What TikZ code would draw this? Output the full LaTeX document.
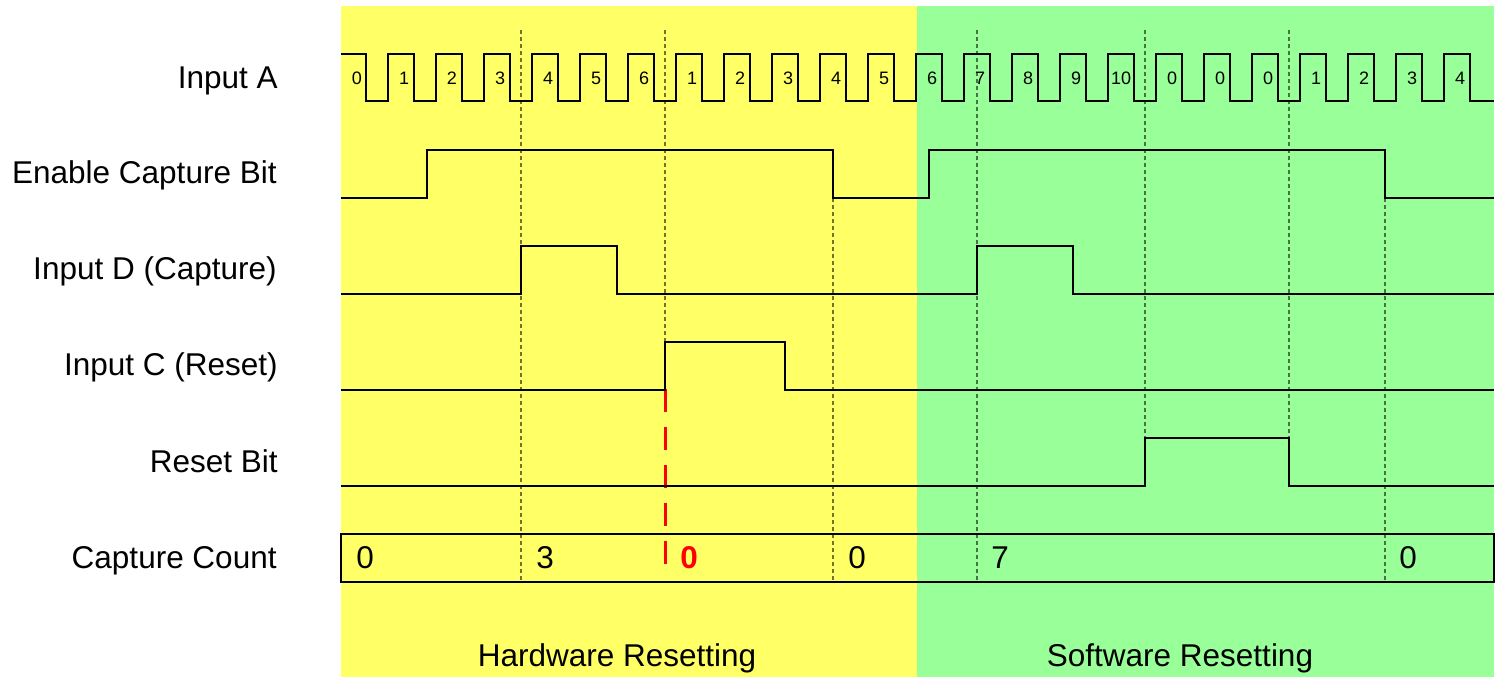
\documentclass[tikz,border=0pt]{standalone}
\usepackage{fontspec}
\setmainfont{Liberation Sans}
\definecolor{hwyellow}{RGB}{255,255,102}
\definecolor{swgreen}{RGB}{153,255,153}
\tikzset{
  wave/.style={draw=black, line width=1pt, line join=miter},
  guideline/.style={draw=black, draw opacity=0.55, line width=0.7pt, dash pattern=on 2pt off 1.5pt},
  resetline/.style={draw=red, line width=1.5pt, dash pattern=on 11.5pt off 7.5pt},
  biglabel/.style={inner sep=0pt, font=\fontsize{15.75pt}{18pt}\selectfont},
  siglabel/.style={biglabel, anchor=base east},
  tick/.style={inner sep=0pt, anchor=base, font=\fontsize{9pt}{10pt}\selectfont},
  countlabel/.style={biglabel, anchor=base west}
}
\begin{document}
\begin{tikzpicture}[x=0.5pt,y=-0.5pt]
\useasboundingbox (0,0) rectangle (1499,677);
% backgrounds
\fill[hwyellow] (341,6) rectangle (917,677);
\fill[swgreen] (917,6) rectangle (1494,677);
% guide lines
\draw[guideline] (521,30) -- (521,582);
\draw[guideline] (665,30) -- (665,390);
\draw[guideline] (833,198) -- (833,582);
\draw[guideline] (977,30) -- (977,582);
\draw[guideline] (1145,30) -- (1145,486);
\draw[guideline] (1289,30) -- (1289,486);
\draw[guideline] (1385,198) -- (1385,582);
\draw[resetline] (665,389) -- (665,568);
% signal names
\node[siglabel] (nA) at (278,88) {Input A};
\node[siglabel] (nE) at (277,183.5) {Enable Capture Bit};
\node[siglabel] (nD) at (277,279) {Input D (Capture)};
\node[siglabel] (nC) at (278,375) {Input C (Reset)};
\node[siglabel] (nR) at (278,472) {Reset Bit};
\node[siglabel] (nN) at (277,568) {Capture Count};
% Input A clock
\draw[wave] (341,54)
  \foreach \k in {0,...,22} { -- ({365.5+48*\k},54) -- ({365.5+48*\k},101) -- ({388+48*\k},101) -- ({388+48*\k},54) }
  -- (1469.5,54) -- (1469.5,101) -- (1494,101);
\foreach \lab/\dx [count=\i from 0] in {0/17,1/16,2/16,3/16,4/16,5/16,6/16,1/16,2/16,3/16,4/16,5/16,6/16,7/16,8/16,9/16,10/13,0/16,0/16,0/16,1/16,2/16,3/16,4/16}
  \node[tick] (t\i) at ({340+48*\i+\dx},84) {\lab};
% Enable Capture Bit
\draw[wave] (341,198) -- (427,198) -- (427,150) -- (833,150) -- (833,198) -- (929,198) -- (929,150) -- (1385,150) -- (1385,198) -- (1494,198);
% Input D
\draw[wave] (341,294) -- (521,294) -- (521,246) -- (617,246) -- (617,294) -- (977,294) -- (977,246) -- (1073,246) -- (1073,294) -- (1494,294);
% Input C
\draw[wave] (341,390) -- (665,390) -- (665,342) -- (785,342) -- (785,390) -- (1494,390);
% Reset Bit
\draw[wave] (341,486) -- (1145,486) -- (1145,438) -- (1289,438) -- (1289,486) -- (1494,486);
% Capture Count
\draw[wave] (341,534) rectangle (1494,582);
\node[countlabel] (c0) at (356,568) {0};
\node[countlabel] (c1) at (536,568) {3};
\node[countlabel, text=red, font=\fontsize{15.75pt}{18pt}\selectfont\bfseries] (c2) at (680,568) {0};
\node[countlabel] (c3) at (848,568) {0};
\node[countlabel] (c4) at (991,568) {7};
\node[countlabel] (c5) at (1399,568) {0};
% region names
\node[biglabel, anchor=base] (hw) at (617,666) {Hardware Resetting};
\node[biglabel, anchor=base] (sw) at (1180,666) {Software Resetting};
\end{tikzpicture}
\end{document}
